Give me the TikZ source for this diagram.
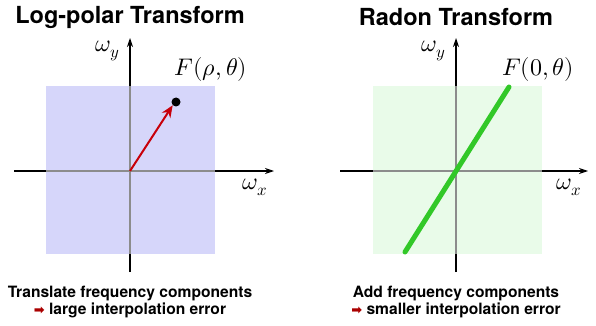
\documentclass[tikz,border=0pt]{standalone}
\usepackage{fontspec}
\setmainfont{TeX Gyre Heros}
\newfontfamily\symfont{DejaVu Sans}
\usepackage{unicode-math}
\setmathfont{Latin Modern Math}
\usetikzlibrary{arrows.meta}
\definecolor{bluesq}{RGB}{214,214,250}
\definecolor{greensq}{RGB}{233,251,233}
\definecolor{linegreen}{RGB}{50,200,40}
\definecolor{arrred}{RGB}{200,0,10}
\definecolor{txtred}{RGB}{170,0,0}
\begin{document}
\begin{tikzpicture}[x=1pt,y=-1pt,
  axis/.style={line width=1.1pt,black},
  axisin/.style={line width=1.1pt,black!45},
  axarrow/.style={axis,-{Stealth[length=9pt,width=6pt]}},
  title/.style={font=\fontsize{23.5}{28}\selectfont\bfseries},
  caption/.style={font=\fontsize{15.6}{19}\selectfont\bfseries,align=center},
  mlabel/.style={font=\fontsize{24}{28}\selectfont},
  ]
\useasboundingbox (0,0) rectangle (596,326);
% ---------- left panel
\node[title] (t1) at (130,17) {Log-polar Transform};
\coordinate (o1) at (130,171);
\coordinate (xl) at (14,171);
\coordinate (xr) at (274,171);
\coordinate (yb) at (130,272);
\coordinate (yt) at (130,38);
\draw[axis] (xl) -- (46,171);
\draw[axarrow] (215,171) -- (xr);
\draw[axis] (yb) -- (130,254);
\draw[axarrow] (130,86) -- (yt);
\fill[bluesq] (46,86) rectangle (215,254);
\draw[axisin] (46,171) -- (215,171);
\draw[axisin] (130,86) -- (130,254);
\node[mlabel] (wx1) at (255,187) {$\omega_x$};
\node[mlabel] (wy1) at (108,51) {$\omega_y$};
\node[mlabel] (F1) at (211,70) {$F(\rho,\theta)$};
\node[circle,fill=black,inner sep=0pt,minimum size=9pt] (dot) at (176,102) {};
\draw[arrred,line width=2pt,-{Stealth[length=12pt,width=10pt]}] (o1) -- (dot.south west);
\node[caption] (c1) at (130,302) {Translate frequency components\\[-2pt]{\symfont\color{txtred}\fontsize{13}{15}\selectfont ➡} large interpolation error};
% ---------- right panel
\node[title] (t2) at (456,17) {Radon Transform};
\coordinate (o2) at (456,171);
\coordinate (xl2) at (340,171);
\coordinate (xr2) at (588,171);
\coordinate (yb2) at (456,272);
\coordinate (yt2) at (456,38);
\draw[axis] (xl2) -- (373,171);
\draw[axarrow] (542,171) -- (xr2);
\draw[axis] (yb2) -- (456,254);
\draw[axarrow] (456,86) -- (yt2);
\fill[greensq] (373,86) rectangle (542,254);
\draw[axisin] (373,171) -- (542,171);
\draw[axisin] (456,86) -- (456,254);
\coordinate (g1) at (405,252);
\coordinate (g2) at (509,87);
\draw[linegreen,line width=5pt,line cap=round] (g1) -- (g2);
\node[mlabel] (wx2) at (569,187) {$\omega_x$};
\node[mlabel] (wy2) at (434,51) {$\omega_y$};
\node[mlabel] (F2) at (538,70) {$F(0,\theta)$};
\node[caption] (c2) at (456,302) {Add frequency components\\[-2pt]{\symfont\color{txtred}\fontsize{13}{15}\selectfont ➡} smaller interpolation error};
\end{tikzpicture}
\end{document}
